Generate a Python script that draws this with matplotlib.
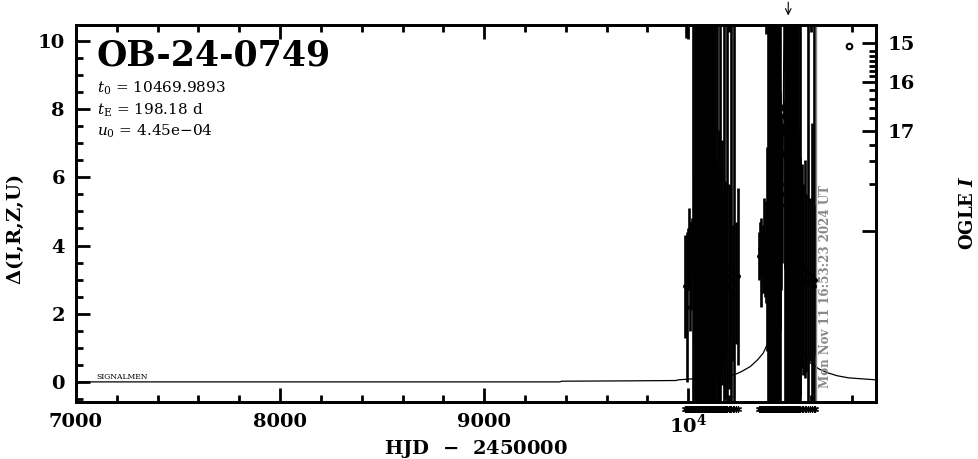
import numpy as np
import matplotlib.pyplot as plt
from matplotlib.ticker import MultipleLocator, FixedLocator

plt.rcParams['font.family'] = 'DejaVu Serif'
plt.rcParams['mathtext.fontset'] = 'dejavuserif'

# model curve (HJD-2450000, delta)
model_t = [7000, 9370, 9380, 9700, 9940, 9950, 10100, 10200, 10230, 10260, 10304,
           10340, 10368, 10402, 10425, 10440, 10452, 10460, 10466, 10470,
           10476, 10482, 10492, 10505, 10525, 10550, 10574, 10598, 10640,
           10681, 10730, 10784, 10850, 10920]
model_d = [0.0, 0.0, 0.02, 0.03, 0.04, 0.06, 0.12, 0.18, 0.22, 0.3, 0.45,
           0.65, 0.85, 1.3, 1.9, 2.7, 3.8, 5.5, 8.0, 11.5,
           8.0, 5.5, 3.6, 2.4, 1.5, 1.05, 0.8, 0.56, 0.38,
           0.27, 0.18, 0.12, 0.09, 0.06]

# observations, first season
t1 = [9985, 9991, 9993, 9998, 10003, 10008, 10013, 10018, 10023, 10028, 10033,
      10037, 10040, 10043, 10046, 10049, 10052, 10055, 10058, 10061, 10064,
      10067, 10070, 10073, 10076, 10079, 10082, 10085, 10088, 10091, 10094,
      10097, 10100, 10103, 10106, 10109, 10112, 10115, 10118, 10121, 10124,
      10128, 10132, 10136, 10140, 10144, 10148, 10152, 10156, 10160, 10165,
      10170, 10175, 10180, 10186, 10192, 10198, 10204, 10210, 10218, 10226,
      10234, 10242]
d1 = [2.8, 11.3, 2.2, 3.6, 3.9, 3.1, 3.4, 4.0, 3.3, 3.7, 3.5,
      3.9, 3.2, 3.6, 4.1, 3.4, 3.8, 3.0, 3.5, 4.2, 3.3,
      3.7, 3.9, 3.1, 3.6, 4.0, 3.4, 3.8, 3.2, 3.5, 3.9,
      3.3, 3.7, 4.1, 3.0, 3.6, 3.4, 3.8, 3.2, 3.9, 3.5,
      3.1, 3.7, 3.3, 4.0, 3.6, 2.9, 3.4, 3.8, 3.2, 3.5,
      3.0, 3.6, 2.7, 3.3, 3.1, 2.8, 3.4, 3.0, 2.6, 3.2,
      2.9, 3.1]
e1 = [1.5, 1.2, 2.2, 0.9, 1.2, 1.6, 1.3, 0.8, 9.0, 2.5, 10.0,
      8.5, 11.0, 3.0, 9.5, 12.0, 7.5, 10.5, 4.0, 8.0, 11.5,
      6.0, 9.0, 12.5, 3.5, 10.0, 8.0, 11.0, 5.0, 9.5, 7.0,
      12.0, 4.5, 10.5, 8.5, 3.0, 11.0, 6.5, 9.0, 2.5, 10.0,
      3.8, 7.0, 3.2, 11.0, 2.8, 3.5, 4.0, 9.5, 3.0, 3.6,
      2.5, 10.0, 3.2, 2.4, 9.0, 3.0, 2.2, 8.5, 2.0, 7.5,
      1.8, 2.6]

# observations, second season
t2 = [10345, 10350, 10356, 10361, 10366, 10371, 10376, 10380, 10381, 10386, 10391,
      10396, 10400, 10403, 10406, 10409, 10412, 10415, 10418, 10421, 10424,
      10427, 10430, 10433, 10436, 10439, 10442, 10445, 10448, 10451, 10454,
      10457, 10462, 10464, 10466, 10468, 10470, 10473, 10476, 10479, 10482,
      10485, 10488, 10491, 10494, 10497, 10500, 10503, 10506, 10509, 10512,
      10515, 10518, 10521, 10524, 10527, 10530, 10534, 10538, 10542, 10546,
      10550, 10556, 10562, 10570, 10578, 10586, 10596, 10606, 10614, 10622]
d2 = [3.7, 3.9, 3.5, 3.8, 3.6, 4.0, 3.4, 11.4, 3.8, 3.9, 3.6,
      4.1, 3.5, 3.9, 4.2, 3.7, 4.0, 3.6, 4.3, 3.8, 4.1,
      3.9, 4.4, 4.0, 4.6, 4.2, 4.8, 4.5, 5.0, 4.7, 5.2,
      5.5, 8.06, 7.8, 7.5, 7.35, 6.7, 5.8, 5.2, 4.9, 4.6,
      4.4, 4.7, 4.2, 4.5, 4.0, 4.3, 3.9, 4.1, 3.7, 4.0,
      3.6, 3.9, 3.5, 3.8, 3.4, 3.7, 3.3, 3.6, 3.2, 3.5,
      3.1, 3.4, 3.0, 3.3, 2.9, 3.2, 3.0, 3.1, 2.8, 3.0]
e2 = [0.7, 0.8, 1.3, 0.6, 1.0, 1.4, 0.9, 1.2, 1.5, 3.0, 8.0,
      1.8, 10.0, 9.0, 11.5, 4.0, 10.0, 12.0, 7.0, 9.5, 11.0,
      5.5, 10.5, 8.0, 12.0, 6.0, 9.0, 11.0, 3.5, 10.0, 2.5,
      2.0, 0.1, 0.1, 0.1, 0.1, 0.1, 2.5, 9.0, 3.0, 11.0,
      8.0, 10.5, 6.0, 12.0, 9.5, 7.0, 11.0, 8.5, 10.0, 5.0,
      12.0, 9.0, 4.5, 10.5, 7.5, 11.0, 3.8, 9.5, 4.2, 8.0,
      3.5, 3.0, 2.8, 3.2, 2.6, 9.0, 2.4, 4.5, 8.5, 2.2]

# OGLE I magnitude scale on the right (positions in delta units)
ogle_labels = ['15', '16', '17', '']
ogle_major = [9.94, 8.79, 7.35, 4.44]
ogle_minor = [9.71, 9.56, 9.41, 9.26, 9.12, 8.97, 8.56, 8.29, 8.03, 7.74,
              6.94, 6.47, 5.82]

t_now = 10627
t_arrow = 10490

fig = plt.figure(figsize=(9.79, 4.59), dpi=100)
ax = fig.add_axes([76/979, 57/459, 800/979, 377/459])

ax.plot(model_t, model_d, color='black', lw=0.9)
ax.errorbar(t1, d1, yerr=e1, fmt='o', ms=2.5, color='black', ecolor='black',
            elinewidth=1.9, capsize=0)
ax.errorbar(t2, d2, yerr=e2, fmt='o', ms=2.5, color='black', ecolor='black',
            elinewidth=1.9, capsize=0)

# data times marked below the axis
ax.plot(t1 + t2, [-0.0186] * (len(t1) + len(t2)), ls='none', marker=(6, 2, 0),
        ms=5, mew=0.8, color='black', transform=ax.get_xaxis_transform(),
        clip_on=False)

ax.axvline(t_now, color='#888888', lw=1)
ax.text(10671, 2.8, 'Mon Nov 11 16:53:23 2024 UT', rotation=90, color='#888888',
        fontsize=8.6, fontweight='bold', ha='center', va='center')

ax.plot([10789], [9.85], 'o', mfc='white', mec='black', ms=4, mew=1.5)

ax.annotate('', xy=(t_arrow, 1.018), xytext=(t_arrow, 1.068),
            xycoords=ax.get_xaxis_transform(),
            arrowprops=dict(arrowstyle='->', lw=0.8, color='black'),
            annotation_clip=False)

ax.set_xlim(7000, 10920)
ax.set_ylim(-0.59, 10.47)

ax.xaxis.set_major_locator(FixedLocator([7000, 8000, 9000, 10000]))
ax.set_xticklabels(['7000', '8000', '9000', r'$\mathbf{10^4}$'])
ax.xaxis.set_minor_locator(MultipleLocator(200))
ax.yaxis.set_major_locator(MultipleLocator(2))
ax.yaxis.set_minor_locator(MultipleLocator(0.5))
ax.tick_params(which='both', direction='in', top=True, right=False, width=2)
ax.tick_params(which='major', length=10, labelsize=14, pad=8)
ax.tick_params(which='minor', length=5)
for lab in ax.get_xticklabels() + ax.get_yticklabels():
    lab.set_fontweight('bold')
for sp in ax.spines.values():
    sp.set_linewidth(2)

ax2 = ax.twinx()
ax2.set_ylim(ax.get_ylim())
ax2.yaxis.set_major_locator(FixedLocator(ogle_major))
ax2.set_yticklabels(ogle_labels)
ax2.yaxis.set_minor_locator(FixedLocator(ogle_minor))
ax2.tick_params(which='both', direction='in', width=2)
ax2.tick_params(which='major', length=10, labelsize=14, pad=8)
ax2.tick_params(which='minor', length=5)
for lab in ax2.get_yticklabels():
    lab.set_fontweight('bold')
for sp in ax2.spines.values():
    sp.set_linewidth(2)

ax.text(0.026, 0.918, 'OB-24-0749', transform=ax.transAxes, fontsize=25,
        fontweight='bold', va='center', ha='left')
ax.text(0.026, 0.833, r'$t_0$ = 10469.9893', transform=ax.transAxes, fontsize=11,
        va='center', ha='left')
ax.text(0.026, 0.775, r'$t_{\rm E}$ = 198.18 d', transform=ax.transAxes, fontsize=11,
        va='center', ha='left')
ax.text(0.026, 0.717, r'$u_0$ = 4.45e$-$04', transform=ax.transAxes, fontsize=11,
        va='center', ha='left')
ax.text(0.026, 0.02, 'SIGNALMEN', transform=ax.get_yaxis_transform(), fontsize=5.5,
        va='bottom', ha='left')

fig.text(15/979, 0.499, r'$\mathbf{\Delta}$(I,R,Z,U)', rotation=90, fontsize=14,
         fontweight='bold', ha='center', va='center')
fig.text(476/979, 10/459, r'HJD  $\mathbf{-}$  2450000', fontsize=14,
         fontweight='bold', ha='center', va='center')
fig.text(968/979, 1 - 213/459, r'OGLE $\mathbfit{I}$', rotation=90, fontsize=13,
         fontweight='bold', ha='center', va='center')

fig.savefig('out.png', dpi=100)
